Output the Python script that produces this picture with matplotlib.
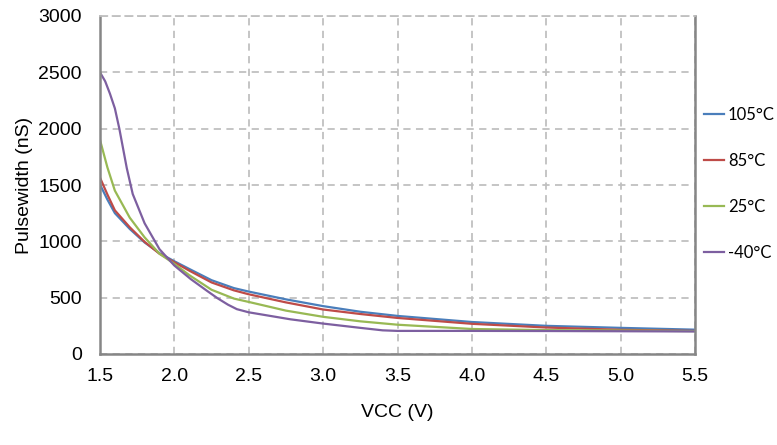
import matplotlib
matplotlib.use("Agg")
import matplotlib.pyplot as plt

vcc = [1.5, 1.55, 1.6, 1.7, 1.8, 1.9, 2.0, 2.1, 2.25, 2.4, 2.5, 2.75, 3.0, 3.25, 3.5, 4.0, 4.5, 5.0, 5.5]
pw_105 = [1504, 1370, 1250, 1110, 990, 895, 823, 755, 655, 585, 554, 485, 425, 375, 338, 284, 250, 232, 216]
pw_85 = [1565, 1415, 1275, 1125, 995, 890, 814, 740, 635, 565, 530, 458, 395, 355, 320, 268, 235, 215, 205]
pw_25 = [1900, 1655, 1450, 1210, 1035, 890, 800, 700, 570, 492, 462, 385, 330, 290, 260, 222, 212, 208, 203]

vcc_m40 = [1.5, 1.535, 1.567, 1.6, 1.63, 1.68, 1.72, 1.8, 1.9, 2.0, 2.11, 2.22, 2.29, 2.36, 2.42, 2.5, 2.78, 3.0, 3.25, 3.4, 3.5, 4.0, 4.5, 5.0, 5.5]
pw_m40 = [2500, 2420, 2310, 2180, 2000, 1650, 1420, 1160, 930, 785, 665, 560, 495, 438, 398, 370, 308, 270, 232, 210, 205, 205, 204, 202, 200]

labels = ["105°C", "85°C", "25°C", "-40°C"]
colors = ["#4A7EBB", "#BE4B48", "#98B954", "#7D5FA0"]

xticks = [1.5, 2.0, 2.5, 3.0, 3.5, 4.0, 4.5, 5.0, 5.5]
yticks = [0, 500, 1000, 1500, 2000, 2500, 3000]

fig = plt.figure(figsize=(7.77, 4.45), dpi=100)
ax = fig.add_axes([100/777, 1-354/445, 595/777, 338/445])

series = [(vcc, pw_105), (vcc, pw_85), (vcc, pw_25), (vcc_m40, pw_m40)]
for (x, y), lab, c in zip(series, labels, colors):
    ax.plot(x, y, color=c, lw=1.6, label=lab, solid_joinstyle="round")

ax.set_xlim(1.5, 5.5)
ax.set_ylim(0, 3000)
ax.set_xticks(xticks)
ax.set_xticklabels([f"{v:.1f}" for v in xticks])
ax.set_yticks(yticks)
ax.grid(True, color="#C0C0C0", linestyle=(0, (4, 3)), linewidth=1.3)
ax.set_axisbelow(True)
for s in ["left", "bottom", "right"]:
    ax.spines[s].set_color("#868686")
    ax.spines[s].set_linewidth(1.8)
ax.spines["top"].set_color("#C0C0C0")
ax.spines["top"].set_linestyle((0, (4, 3)))
ax.spines["top"].set_linewidth(1.3)
ax.tick_params(length=0, labelsize=14, labelfontfamily="Liberation Sans")
ax.tick_params(axis="y", pad=13)
ax.tick_params(axis="x", pad=10)

ax.set_xlabel("VCC (V)", fontsize=14, family="Liberation Sans", labelpad=14)
ax.set_ylabel("Pulsewidth (nS)", fontsize=14, family="Liberation Sans", labelpad=4)

leg = ax.legend(loc="upper left", bbox_to_anchor=(1.015, 0.73), frameon=False,
                prop={"family": "Lato", "size": 12}, handlelength=1.2,
                handletextpad=0.25, labelspacing=1.8, borderaxespad=0, borderpad=0)
for h in leg.get_lines():
    h.set_linewidth(1.6)

fig.savefig("out.png", dpi=100)
